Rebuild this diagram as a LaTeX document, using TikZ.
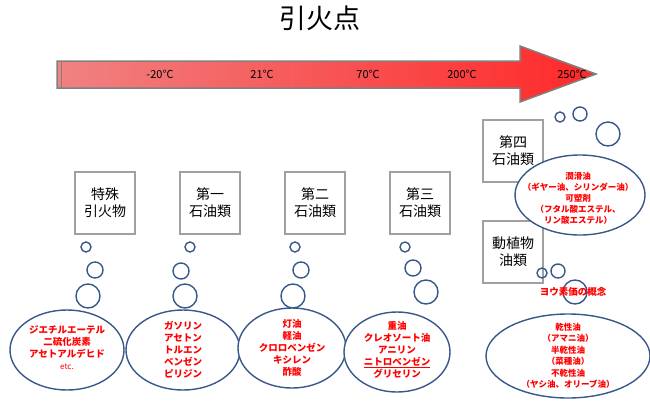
\documentclass[tikz,border=0pt]{standalone}
\usepackage{fontspec}
\setmainfont{Noto Sans CJK JP}
\usetikzlibrary{positioning}
\definecolor{ringblue}{RGB}{56,88,140}
\definecolor{boxgray}{RGB}{160,160,160}
\definecolor{arrowred}{RGB}{255,40,40}
\definecolor{arrowpink}{RGB}{240,130,130}

\begin{document}
\begin{tikzpicture}[x=1pt,y=-1pt,
    kind/.style={draw=boxgray,line width=1.5pt,minimum width=60pt,minimum height=62pt,
                 align=center,font=\fontsize{14}{17}\selectfont},
    ring/.style={draw=ringblue,line width=1.4pt},
    memo/.style={align=center,text=red,font=\bfseries\fontsize{9.5}{12}\selectfont},
    temp/.style={font=\fontsize{11}{12}\selectfont}]
  \useasboundingbox (0,0) rectangle (650,410);

  % title and scale
  \node (title) at (320,18) {\fontsize{27}{30}\selectfont 引火点};
  \shade[left color=arrowpink,right color=arrowred,draw=gray,line width=1.5pt]
    (57,61) -- (520,61) -- (520,46) -- (596,74) -- (520,102) -- (520,88) -- (57,88) -- cycle;
  \draw[gray,line width=1pt] (61,61) -- (61,88);
  \node[temp] (t1) at (160,74) {-20℃};
  \node[temp] (t2) at (262,74) {21℃};
  \node[temp] (t3) at (368,74) {70℃};
  \node[temp] (t4) at (462,74) {200℃};
  \node[temp] (t5) at (572,74) {250℃};

  % classes
  \node[kind] (k0) at (105,203) {特殊\\引火物};
  \node[kind] (k1) at (210,203) {第一\\石油類};
  \node[kind] (k2) at (315,203) {第二\\石油類};
  \node[kind] (k3) at (420,203) {第三\\石油類};
  \node[kind] (k4) at (513,151) {第四\\石油類};
  \node[kind] (k5) at (513,252) {動植物\\油類};

  % thought bubbles
  \foreach \x/\y/\r in {86/247/5, 95/270/8, 88/296/12,
                        190/247/5, 181/271/8, 185/296/12,
                        295/247/5, 301/270/8, 293/296/12,
                        405/247/5, 413/268/8, 426/292/12,
                        560/117/5, 580/114/7, 608/134/12,
                        542/273/5, 558/271/7, 575/292/12}
    \draw[ring] (\x,\y) circle (\r);
  \draw[ring,fill=white] (67,350) ellipse (57 and 40);
  \draw[ring,fill=white] (183,350) ellipse (57 and 40);
  \draw[ring,fill=white] (292,348) ellipse (54 and 40);
  \draw[ring,fill=white] (397,352) ellipse (53 and 40);
  \draw[ring,fill=white] (580,195) ellipse (65 and 40);
  \draw[ring,fill=white] (568,356) ellipse (82 and 42);

  \node[memo] (m0) at (67,348) {ジエチルエーテル\\二硫化炭素\\アセトアルデヒド\\{\mdseries\fontsize{8}{11}\selectfont etc.}};
  \node[memo] (m1) at (183,350) {ガソリン\\アセトン\\トルエン\\ベンゼン\\ピリジン};
  \node[memo] (m2) at (292,348) {灯油\\軽油\\クロロベンゼン\\キシレン\\酢酸};
  \node[memo] (m3) at (397,350) {重油\\クレオソート油\\アニリン\\\underline{ニトロベンゼン}\\グリセリン};
  \node[memo,font=\bfseries\fontsize{8.5}{11}\selectfont] (m4) at (578,198) {潤滑油\\（ギヤー油、シリンダー油）\\可塑剤\\（フタル酸エステル、\\リン酸エステル）};
  \node[memo,font=\bfseries\fontsize{8.5}{11.5}\selectfont] (m5) at (568,356) {乾性油\\（アマニ油）\\半乾性油\\（菜種油）\\不乾性油\\（ヤシ油、オリーブ油）};
  \node[memo] (iodine) at (573,292) {ヨウ素価の概念};
\end{tikzpicture}
\end{document}
